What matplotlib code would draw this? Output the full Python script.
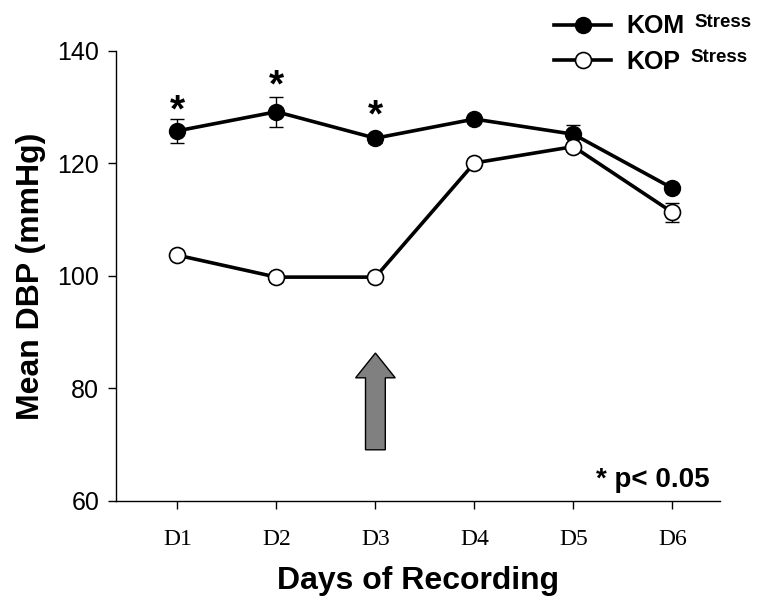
import numpy as np
import matplotlib
matplotlib.use("Agg")
import matplotlib.pyplot as plt

plt.rcParams['font.family'] = ['Liberation Sans', 'DejaVu Sans']

days = ["D1", "D2", "D3", "D4", "D5", "D6"]
kom_mean = [125.8, 129.2, 124.5, 127.9, 125.2, 115.6]
kom_err = [2.1, 2.7, 0.8, 0.5, 1.6, 0.5]
kop_mean = [103.7, 99.8, 99.8, 120.1, 123.0, 111.3]
kop_err = [0.5, 0.8, 0.6, 0.5, 0.5, 1.7]
sig_days = [1, 2, 3]
sig_y = [127.5, 131.9, 126.6]

x = np.arange(1, len(days) + 1)

fig = plt.figure(figsize=(7.64, 6.1), dpi=100)
ax = fig.add_axes([0.1518, 0.1787, 0.7906, 0.7377])

ax.errorbar(x, kom_mean, yerr=kom_err, fmt='none', ecolor='black',
            elinewidth=1, capsize=5, capthick=1, zorder=2)
ax.errorbar(x, kop_mean, yerr=kop_err, fmt='none', ecolor='black',
            elinewidth=1, capsize=5, capthick=1, zorder=2)
l1, = ax.plot(x, kom_mean, '-o', color='black', lw=2.6, ms=11.5,
              mfc='black', mec='black', zorder=3)
l2, = ax.plot(x, kop_mean, '-o', color='black', lw=2.6, ms=11.5,
              mfc='white', mec='black', mew=1.2, zorder=3)

# significance stars
for d, yy in zip(sig_days, sig_y):
    ax.text(d, yy, '*', ha='center', va='baseline',
            fontsize=28, fontweight='bold')

# treatment arrow at D3
ax.arrow(3, 69.1, 0, 17.2, width=0.2, head_width=0.4, head_length=4.4,
         length_includes_head=True, fc='#808080', ec='black', lw=1, zorder=4)

ax.text(6.38, 62.5, '* p< 0.05', ha='right', va='baseline',
        fontsize=20, fontweight='bold')

ax.set_xlim(0.38, 6.48)
ax.set_ylim(60, 140)
ax.set_yticks([60, 80, 100, 120, 140])
ax.set_xticks(x)
ax.set_xticklabels(days, fontfamily='Liberation Serif', fontsize=17)
ax.tick_params(axis='y', labelsize=18, length=6, width=1, pad=6)
ax.tick_params(axis='x', length=6, width=1, pad=14)
for s in ['top', 'right']:
    ax.spines[s].set_visible(False)
for s in ['left', 'bottom']:
    ax.spines[s].set_linewidth(1)

ax.set_ylabel('Mean DBP (mmHg)', fontsize=23, fontweight='bold', labelpad=8)
ax.set_xlabel('Days of Recording', fontsize=23, fontweight='bold', labelpad=12)

leg = fig.legend([l1, l2], ['KOM', 'KOP'],
                 loc='upper left', bbox_to_anchor=(0.712, 0.993),
                 frameon=False, prop={'size': 18, 'weight': 'bold'},
                 handlelength=2.3, handletextpad=0.6, labelspacing=0.45,
                 borderaxespad=0)
for t in leg.get_texts():
    ax.annotate('Stress', xy=(1, 0), xycoords=t, xytext=(7, 8),
                textcoords='offset points', ha='left', va='baseline',
                fontsize=13.5, fontweight='bold', annotation_clip=False)

fig.canvas.draw()
fig.savefig('out.png', dpi=100)
